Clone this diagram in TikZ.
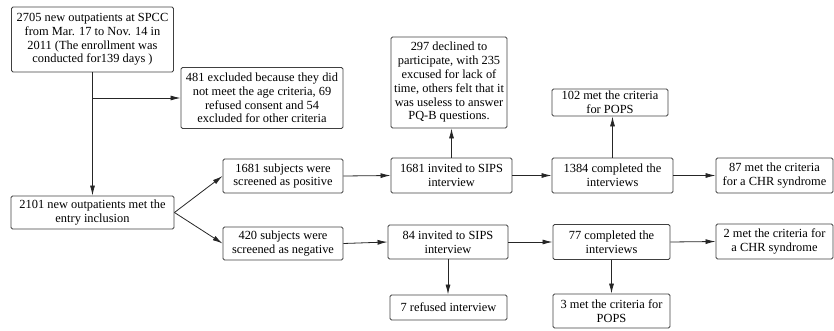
\documentclass[tikz,border=0pt]{standalone}
\usepackage{fontspec}
\setmainfont{Liberation Serif}
\newfontfamily\flowfont{Liberation Serif}
\usetikzlibrary{arrows.meta}

\begin{document}
\begin{tikzpicture}[x=1pt, y=-1pt,
	box/.style={draw=black!75, rounded corners=1.5pt, line width=0.9pt, align=center, inner sep=0pt, font=\flowfont\fontsize{12.4}{13.8}\selectfont},
	arr/.style={-{Latex[length=10pt,width=5pt]}, line width=0.8pt, black!85}]
	\useasboundingbox (0,0) rectangle (834,331);
	\node [box, minimum width=162, minimum height=65] (total) at (92.5,39.5) {2705 new outpatients at SPCC\\from Mar. 17 to Nov. 14 in\\2011 (The enrollment was\\conducted for139 days )};
	\node [box, minimum width=162, minimum height=61] (excl) at (262,98) {481 excluded because they did\\not meet the age criteria, 69\\refused consent and 54\\excluded for other criteria};
	\node [box, minimum width=163, minimum height=33] (entry) at (92.5,212.5) {2101 new outpatients met the\\entry inclusion};
	\node [box, minimum width=120, minimum height=34] (pos) at (283,176) {1681 subjects were\\screened as positive};
	\node [box, minimum width=121, minimum height=35] (posinv) at (451.5,175.5) {1681 invited to SIPS\\interview};
	\node [box, minimum width=121, minimum height=35] (poscomp) at (612.5,175.5) {1384 completed the\\interviews};
	\node [box, minimum width=117, minimum height=35] (poschr) at (774.5,175.5) {87 met the criteria\\for a CHR syndrome};
	\node [box, minimum width=116, minimum height=91] (declined) at (449,82.5) {297 declined to\\participate,\ with 235\\excused for lack of\\time, others felt that it\\was useless to answer\\PQ-B questions.};
	\node [box, minimum width=116, minimum height=27] (pospops) at (610,102.5) {102 met the criteria\\for POPS};
	\node [box, minimum width=120, minimum height=33] (neg) at (283,243.5) {420 subjects were\\screened as negative};
	\node [box, minimum width=120, minimum height=34] (neginv) at (448,242) {84 invited to SIPS\\interview};
	\node [box, minimum width=117, minimum height=35] (negcomp) at (611.5,242) {77 completed the\\interviews};
	\node [box, minimum width=117, minimum height=35] (negchr) at (774.5,241.5) {2 met the criteria for\\a CHR syndrome};
	\node [box, minimum width=117, minimum height=25] (refused) at (448.5,307.5) {7 refused interview};
	\node [box, minimum width=117, minimum height=34] (negpops) at (611.5,311) {3 met the criteria for\\POPS};
	\coordinate (split) at (92.5,98);
	\draw [arr] (total.south) -- (entry.north);
	\draw [arr] (split) -- (excl.west |- split);
	\draw [arr] (entry.east) -- (pos.west);
	\draw [arr] (entry.east) -- (neg.west);
	\draw [arr] (pos.east) -- (posinv.west);
	\draw [arr] (posinv.east) -- (poscomp.west);
	\draw [arr] (poscomp.east) -- (poschr.west);
	\draw [arr] (posinv.north) -- (posinv.north |- declined.south);
	\draw [arr] (poscomp.north) -- (poscomp.north |- pospops.south);
	\draw [arr] (neg.east) -- (neginv.west);
	\draw [arr] (neginv.east) -- (negcomp.west);
	\draw [arr] (negcomp.east) -- (negchr.west);
	\draw [arr] (neginv.south) -- (neginv.south |- refused.north);
	\draw [arr] (negcomp.south) -- (negcomp.south |- negpops.north);
\end{tikzpicture}
\end{document}
